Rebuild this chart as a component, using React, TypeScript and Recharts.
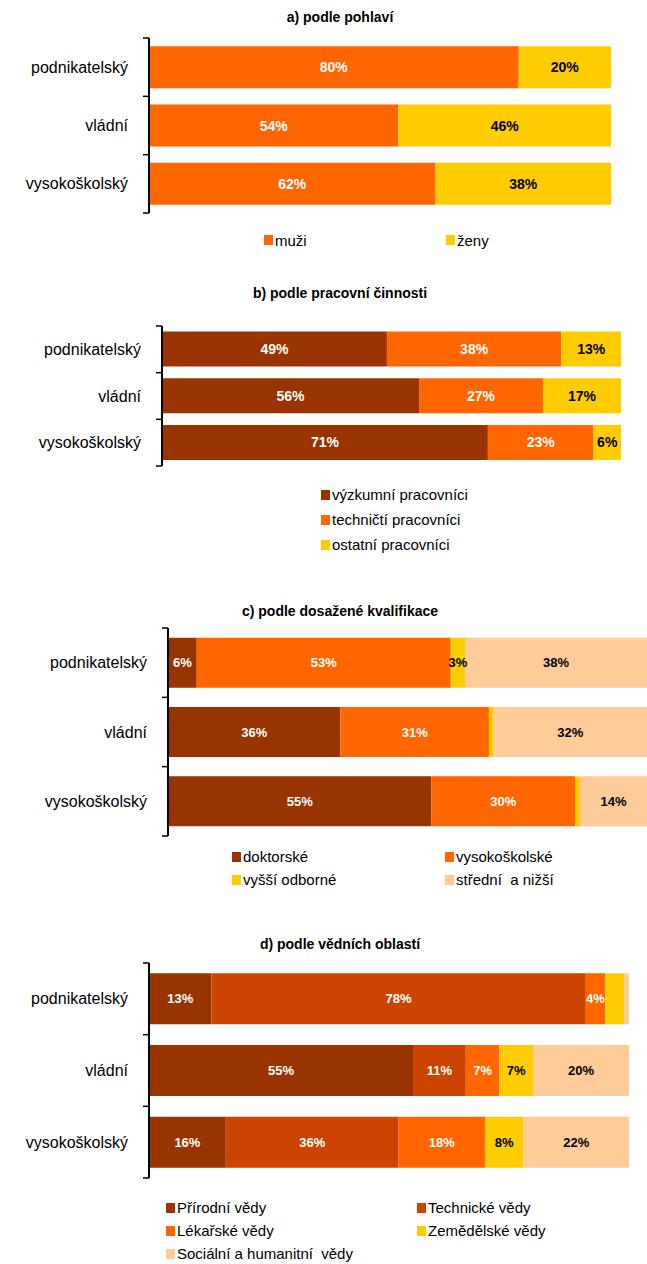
import React from 'react';
import { BarChart, Bar, XAxis, YAxis, LabelList, Legend } from 'recharts';

const FONT = '"Liberation Sans", Arial, sans-serif';

// categories
const sectors = ['podnikatelský', 'vládní', 'vysokoškolský'];

// a) podle pohlaví
const genderMen = [80, 54, 62];
const genderWomen = [20, 46, 38];

// b) podle pracovní činnosti
const workResearch = [49, 56, 71];
const workTechnical = [38, 27, 23];
const workOther = [13, 17, 6];

// c) podle dosažené kvalifikace
const qualDoctoral = [6, 36, 55];
const qualUniversity = [53, 31, 30];
const qualHigherVocational = [3, 1, 1];
const qualSecondary = [38, 32, 14];

// d) podle vědních oblastí
const fieldNatural = [13, 55, 16];
const fieldTechnical = [78, 11, 36];
const fieldMedical = [4, 7, 18];
const fieldAgricultural = [4, 7, 8];
const fieldSocial = [1, 20, 22];

type Series = { key: string; name: string; values: number[]; color: string; labelColor: string; minLabel: number };

const buildRows = (series: Series[]) =>
  sectors.map((name, i) => {
    const row: Record<string, any> = { name };
    series.forEach((s) => (row[s.key] = s.values[i]));
    return row;
  });

type PanelProps = {
  title: string;
  titleY: number;
  chartTop: number;
  height: number;
  margin: { top: number; right: number; bottom: number; left: number };
  gap: string;
  series: Series[];
  labelSize: number;
  legendLeft: number;
  legendTop: number;
  legendCols: number[];
  legendRowH: number;
};

const makeLegend = (cols: number[], rowH: number, series: Series[]) => (props: any) => {
  const order = series.map((s) => s.key);
  const payload = [...(props.payload || [])].sort(
    (a: any, b: any) => order.indexOf(String(a.dataKey)) - order.indexOf(String(b.dataKey))
  );
  return (
    <div
      style={{
        display: 'grid',
        gridTemplateColumns: cols.map((c) => c + 'px').join(' '),
        gridAutoRows: rowH + 'px',
        fontFamily: FONT,
        fontSize: 15,
        color: '#000',
      }}
    >
      {payload.map((e: any, i: number) => (
        <div key={i} style={{ display: 'flex', alignItems: 'center', whiteSpace: 'pre' }}>
          <span style={{ width: 9, height: 10, background: e.color, marginRight: 2, display: 'inline-block', flex: 'none' }} />
          <span>{e.value}</span>
        </div>
      ))}
    </div>
  );
};

// category tick: label + tick marks at the band boundaries (Excel style)
const CategoryTick = (props: any) => {
  const { x, y, payload, index, visibleTicksCount, height } = props;
  const half =
    payload && payload.offset > 0 ? payload.offset : (height || 0) / (2 * (visibleTicksCount || 1));
  const last = index === (visibleTicksCount || 1) - 1;
  return (
    <g>
      <line x1={x - 6} x2={x} y1={y - half} y2={y - half} stroke="#000" strokeWidth={1.5} />
      {last && <line x1={x - 6} x2={x} y1={y + half} y2={y + half} stroke="#000" strokeWidth={1.5} />}
      <text
        x={x - 21}
        y={y}
        textAnchor="end"
        dominantBaseline="central"
        fill="#000"
        fontSize={16}
        fontFamily={FONT}
      >
        {payload.value}
      </text>
    </g>
  );
};

function Panel(p: PanelProps) {
  const rows = buildRows(p.series);
  return (
    <>
      <div
        style={{
          position: 'absolute',
          left: 140,
          width: 400,
          top: p.titleY - 10,
          height: 20,
          lineHeight: '20px',
          textAlign: 'center',
          fontFamily: FONT,
          fontWeight: 'bold',
          fontSize: 14,
          color: '#000',
        }}
      >
        {p.title}
      </div>
      <div style={{ position: 'absolute', left: 0, top: p.chartTop, width: 647, height: p.height }}>
        <BarChart
          width={647}
          height={p.height}
          data={rows}
          layout="vertical"
          margin={{ ...p.margin, left: p.margin.left - 1 }}
          barCategoryGap={p.gap}
        >
          <XAxis type="number" domain={[0, 100]} hide allowDataOverflow />
          <YAxis
            type="category"
            dataKey="name"
            width={1}
            tickSize={0}
            tickMargin={0}
            interval={0}
            axisLine={{ stroke: '#000', strokeWidth: 2 }}
            tickLine={false}
            tick={CategoryTick}
          />
          {p.series.map((s) => (
            <Bar
              key={s.key}
              dataKey={s.key}
              name={s.name}
              stackId="a"
              fill={s.color}
              isAnimationActive={false}
            >
              <LabelList
                dataKey={s.key}
                content={(lp: any) => {
                  const v = Number(lp.value);
                  if (!(v >= s.minLabel)) return null;
                  return (
                    <text
                      x={lp.x + lp.width / 2}
                      y={lp.y + lp.height / 2}
                      textAnchor="middle"
                      dominantBaseline="central"
                      fill={s.labelColor}
                      fontSize={p.labelSize}
                      fontWeight="bold"
                      fontFamily={FONT}
                    >
                      {Math.round(v)}%
                    </text>
                  );
                }}
              />
            </Bar>
          ))}
          <Legend
            layout="horizontal"
            verticalAlign="middle"
            align="center"
            wrapperStyle={{ left: p.legendLeft, top: p.legendTop, width: 'auto' }}
            content={makeLegend(p.legendCols, p.legendRowH, p.series)}
          />
        </BarChart>
      </div>
    </>
  );
}

const ORANGE = '#FF6600';
const YELLOW = '#FFCC00';
const BROWN = '#993300';
const PEACH = '#FFCC99';
const RUST = '#CC4400';

export default function App() {
  return (
    <div style={{ position: 'absolute', left: 0, top: 0, width: 647, height: 1264, background: '#fff' }}>
      <Panel
        title="a) podle pohlaví"
        titleY={17}
        chartTop={0}
        height={275}
        margin={{ top: 38, right: 36, bottom: 62, left: 149 }}
        gap="14%"
        labelSize={14}
        series={[
          { key: 'm', name: 'muži', values: genderMen, color: ORANGE, labelColor: '#fff', minLabel: 2 },
          { key: 'z', name: 'ženy', values: genderWomen, color: YELLOW, labelColor: '#000', minLabel: 2 },
        ]}
        legendLeft={264}
        legendTop={230}
        legendCols={[182, 120]}
        legendRowH={20}
      />
      <Panel
        title="b) podle pracovní činnosti"
        titleY={293}
        chartTop={275}
        height={300}
        margin={{ top: 51, right: 26, bottom: 109, left: 162 }}
        gap="12%"
        labelSize={14}
        series={[
          { key: 'r', name: 'výzkumní pracovníci', values: workResearch, color: BROWN, labelColor: '#fff', minLabel: 2 },
          { key: 't', name: 'techničtí pracovníci', values: workTechnical, color: ORANGE, labelColor: '#fff', minLabel: 2 },
          { key: 'o', name: 'ostatní pracovníci', values: workOther, color: YELLOW, labelColor: '#000', minLabel: 2 },
        ]}
        legendLeft={321}
        legendTop={207}
        legendCols={[250]}
        legendRowH={25}
      />
      <Panel
        title="c) podle dosažené kvalifikace"
        titleY={611}
        chartTop={575}
        height={320}
        margin={{ top: 53, right: 0, bottom: 59, left: 168 }}
        gap="14%"
        labelSize={13}
        series={[
          { key: 'd', name: 'doktorské', values: qualDoctoral, color: BROWN, labelColor: '#fff', minLabel: 2 },
          { key: 'u', name: 'vysokoškolské', values: qualUniversity, color: ORANGE, labelColor: '#fff', minLabel: 2 },
          { key: 'h', name: 'vyšší odborné', values: qualHigherVocational, color: YELLOW, labelColor: '#000', minLabel: 2 },
          { key: 's', name: 'střední  a nižší', values: qualSecondary, color: PEACH, labelColor: '#000', minLabel: 2 },
        ]}
        legendLeft={232}
        legendTop={270}
        legendCols={[213, 200]}
        legendRowH={23}
      />
      <Panel
        title="d) podle vědních oblastí"
        titleY={944}
        chartTop={895}
        height={369}
        margin={{ top: 68, right: 18, bottom: 86, left: 149 }}
        gap="14.4%"
        labelSize={13}
        series={[
          { key: 'n', name: 'Přírodní vědy', values: fieldNatural, color: BROWN, labelColor: '#fff', minLabel: 2 },
          { key: 'te', name: 'Technické vědy', values: fieldTechnical, color: RUST, labelColor: '#fff', minLabel: 2 },
          { key: 'me', name: 'Lékařské vědy', values: fieldMedical, color: ORANGE, labelColor: '#fff', minLabel: 3 },
          { key: 'ag', name: 'Zemědělské vědy', values: fieldAgricultural, color: YELLOW, labelColor: '#000', minLabel: 5 },
          { key: 'so', name: 'Sociální a humanitní  vědy', values: fieldSocial, color: PEACH, labelColor: '#000', minLabel: 2 },
        ]}
        legendLeft={166}
        legendTop={301}
        legendCols={[251, 200]}
        legendRowH={23}
      />
    </div>
  );
}
